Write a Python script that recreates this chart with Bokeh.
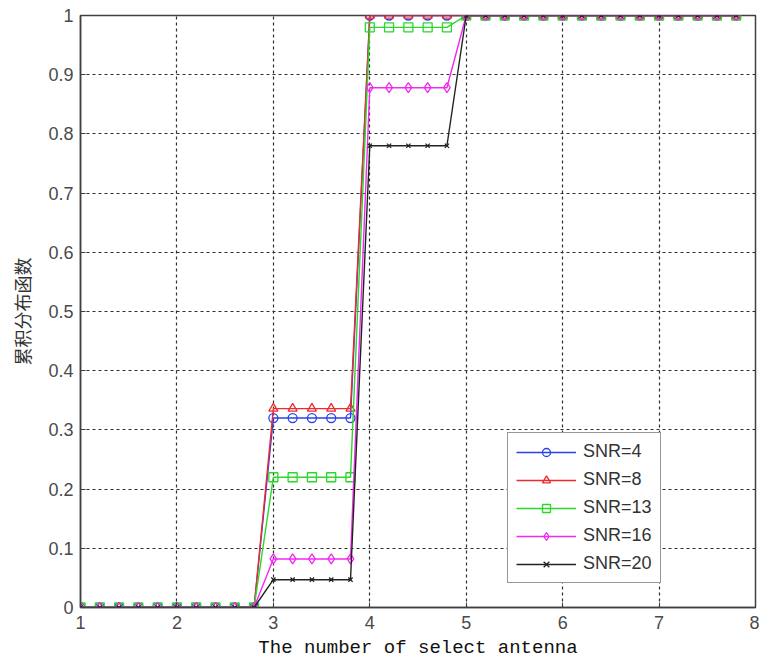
from bokeh.plotting import figure
from bokeh.models import Range1d, FixedTicker, CustomJSTickFormatter, Legend, LegendItem
from bokeh.embed import file_html
from bokeh.resources import INLINE

x = [1.0, 1.2, 1.4, 1.6, 1.8, 2.0, 2.2, 2.4, 2.6, 2.8,
     3.0, 3.2, 3.4, 3.6, 3.8, 4.0, 4.2, 4.4, 4.6, 4.8,
     5.0, 5.2, 5.4, 5.6, 5.8, 6.0, 6.2, 6.4, 6.6, 6.8,
     7.0, 7.2, 7.4, 7.6, 7.8]

snr4 = [0, 0, 0, 0, 0, 0, 0, 0, 0, 0,
        0.32, 0.32, 0.32, 0.32, 0.32, 1, 1, 1, 1, 1,
        1, 1, 1, 1, 1, 1, 1, 1, 1, 1,
        1, 1, 1, 1, 1]
snr8 = [0, 0, 0, 0, 0, 0, 0, 0, 0, 0,
        0.336, 0.336, 0.336, 0.336, 0.336, 1, 1, 1, 1, 1,
        1, 1, 1, 1, 1, 1, 1, 1, 1, 1,
        1, 1, 1, 1, 1]
snr13 = [0, 0, 0, 0, 0, 0, 0, 0, 0, 0,
         0.22, 0.22, 0.22, 0.22, 0.22, 0.98, 0.98, 0.98, 0.98, 0.98,
         1, 1, 1, 1, 1, 1, 1, 1, 1, 1,
         1, 1, 1, 1, 1]
snr16 = [0, 0, 0, 0, 0, 0, 0, 0, 0, 0,
         0.082, 0.082, 0.082, 0.082, 0.082, 0.878, 0.878, 0.878, 0.878, 0.878,
         1, 1, 1, 1, 1, 1, 1, 1, 1, 1,
         1, 1, 1, 1, 1]
snr20 = [0, 0, 0, 0, 0, 0, 0, 0, 0, 0,
         0.047, 0.047, 0.047, 0.047, 0.047, 0.78, 0.78, 0.78, 0.78, 0.78,
         1, 1, 1, 1, 1, 1, 1, 1, 1, 1,
         1, 1, 1, 1, 1]

labels = ["SNR=4", "SNR=8", "SNR=13", "SNR=16", "SNR=20"]
series = [snr4, snr8, snr13, snr16, snr20]
colors = ["#2a40f0", "#f02a2a", "#2ad82a", "#f02af0", "#222222"]
markers = ["circle", "triangle", "square", "diamond", "x"]
sizes = [9, 9, 9, 10, 6]

x_ticks = [1, 2, 3, 4, 5, 6, 7, 8]
y_ticks = [0, 0.1, 0.2, 0.3, 0.4, 0.5, 0.6, 0.7, 0.8, 0.9, 1]

p = figure(width=759, height=662, output_backend="svg", toolbar_location=None,
           x_range=Range1d(1, 8), y_range=Range1d(0, 1))
p.min_border_left = 80
p.min_border_right = 4
p.min_border_top = 15
p.min_border_bottom = 55
p.background_fill_color = "white"
p.border_fill_color = "white"
p.outline_line_color = "#404040"
p.outline_line_width = 1.5

items = []
for lab, ys, c, m, s in zip(labels, series, colors, markers, sizes):
    r1 = p.line(x, ys, line_color=c, line_width=1.4)
    r2 = p.scatter(x, ys, marker=m, size=s, line_color=c, fill_color=None, line_width=1.3)
    items.append(LegendItem(label=lab, renderers=[r1, r2]))

legend = Legend(items=items, location=(427, 24), orientation="vertical")
legend.glyph_width = 60
legend.glyph_height = 20
legend.label_height = 20
legend.label_standoff = 7
legend.spacing = 7
legend.padding = 8
legend.margin = 0
legend.border_line_color = "#303030"
legend.border_line_width = 1.5
legend.background_fill_color = "white"
legend.background_fill_alpha = 1
legend.label_text_font = "Liberation Sans"
legend.label_text_font_size = "18px"
legend.label_text_color = "#333333"
p.add_layout(legend, "center")

fmt = CustomJSTickFormatter(code="return String(Math.round(tick*10)/10);")
for ax, ticks in ((p.xaxis, x_ticks), (p.yaxis, y_ticks)):
    ax.ticker = FixedTicker(ticks=ticks)
    ax.formatter = fmt
    ax.major_tick_in = 5
    ax.major_tick_out = 0
    ax.minor_tick_in = 0
    ax.minor_tick_out = 0
    ax.axis_line_color = "#404040"
    ax.axis_line_width = 1.5
    ax.major_tick_line_color = "#404040"
    ax.major_label_text_font = "Liberation Sans"
    ax.major_label_text_font_size = "18px"
    ax.major_label_text_color = "#4a4a4a"
p.xaxis.major_label_standoff = 8
p.yaxis.major_label_standoff = 7

p.xaxis.axis_label = "The number of select antenna"
p.xaxis.axis_label_text_font = "Liberation Mono"
p.xaxis.axis_label_text_font_size = "19px"
p.xaxis.axis_label_text_font_style = "normal"
p.xaxis.axis_label_text_color = "#111111"
p.xaxis.axis_label_standoff = 5

p.yaxis.axis_label = "累积分布函数"
p.yaxis.axis_label_text_font = "Noto Sans CJK SC"
p.yaxis.axis_label_text_font_size = "18px"
p.yaxis.axis_label_text_font_style = "normal"
p.yaxis.axis_label_text_color = "#333333"
p.yaxis.axis_label_standoff = 10

for g in (p.xgrid, p.ygrid):
    g.grid_line_color = "#303030"
    g.grid_line_dash = "3 3"
    g.grid_line_width = 1.2
p.xgrid.ticker = FixedTicker(ticks=x_ticks)
p.ygrid.ticker = FixedTicker(ticks=y_ticks)

open("out.html", "w").write(file_html(p, INLINE))
